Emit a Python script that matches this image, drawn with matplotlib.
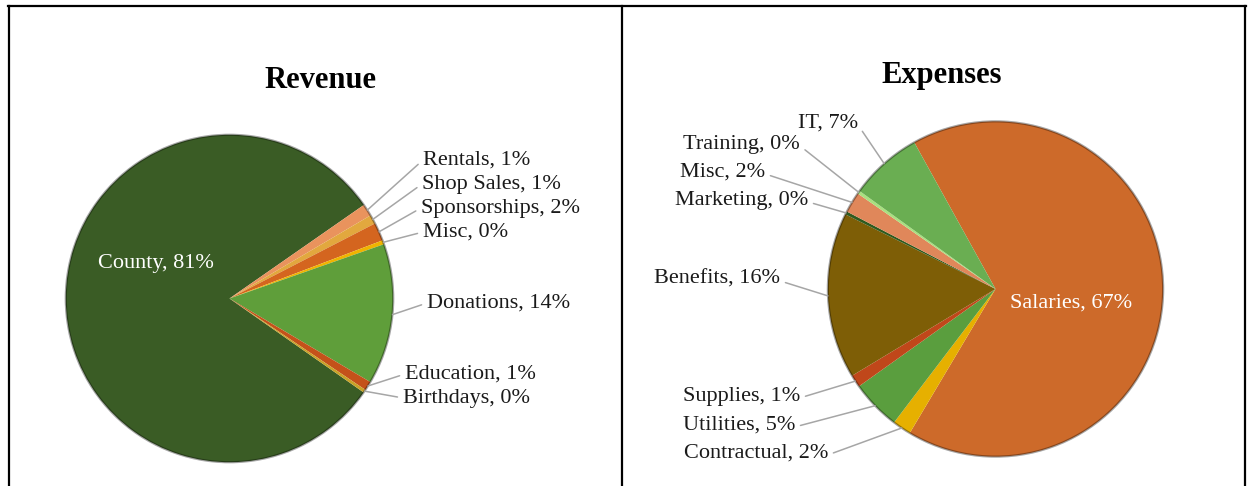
import numpy as np
import matplotlib
matplotlib.use("Agg")
import matplotlib.pyplot as plt
from matplotlib.lines import Line2D
from matplotlib.patches import Circle

plt.rcParams['font.family'] = ['Liberation Serif', 'DejaVu Serif']

W, H = 1250, 486
LINE_COLOR = "#a6a6a6"

# Revenue (clockwise order as drawn)
rev_labels = ["County", "Rentals", "Shop Sales", "Sponsorships", "Misc",
              "Donations", "Education", "Birthdays"]
rev_values = [80.6, 1.2, 0.9, 1.8, 0.4, 13.9, 0.9, 0.3]
rev_pcts = [81, 1, 1, 2, 0, 14, 1, 0]
rev_colors = ["#3a5c25", "#e9935d", "#e2a83e", "#d4651f", "#f0b400",
              "#5f9e3a", "#c4521a", "#c9a227"]

# Expenses
exp_labels = ["Salaries", "Contractual", "Utilities", "Supplies", "Benefits",
              "Marketing", "Misc", "Training", "IT"]
exp_values = [66.6, 1.8, 4.8, 1.2, 16.0, 0.3, 2.0, 0.3, 7.0]
exp_pcts = [67, 2, 5, 1, 16, 0, 2, 0, 7]
exp_colors = ["#cd6a2a", "#e6b000", "#5a9e3e", "#c0471a", "#7e5e06",
              "#2f5a1e", "#e0875a", "#a9e07f", "#6aae52"]

# label anchor positions in image pixels (x, y from top, ha); first one sits inside
rev_pos = [(98, 263, "left"), (423, 160, "left"), (422, 184, "left"),
           (421, 208, "left"), (423, 232, "left"), (427, 303, "left"),
           (405, 374, "left"), (403, 398, "left")]
exp_pos = [(1010, 303, "left"), (828, 453, "right"), (795, 425, "right"),
           (800, 396, "right"), (780, 279, "right"), (808, 200, "right"),
           (765, 172, "right"), (800, 144, "right"), (858, 123, "right")]


def draw_pie(fig, cx, cy, r, values, colors, labels, pcts, positions, start, inside):
    ax = fig.add_axes([(cx - r) / W, (H - cy - r) / H, 2 * r / W, 2 * r / H])
    wedges, _ = ax.pie(values, colors=colors, startangle=start, counterclock=False,
                       radius=1, wedgeprops=dict(linewidth=0))
    ax.set_xlim(-1.02, 1.02)
    ax.set_ylim(-1.02, 1.02)
    ax.set_aspect("auto")
    ax.add_patch(Circle((0, 0), 1, fill=False, edgecolor="#000000", alpha=0.35, lw=1.6))
    for i, (w, lab, p, pos) in enumerate(zip(wedges, labels, pcts, positions)):
        txt = f"{lab}, {p}%"
        px, py, ha = pos
        if i == inside:
            ax.annotate(txt, xy=(px, H - py), xycoords="figure pixels", ha=ha,
                        va="center", color="white", fontsize=16)
            continue
        mid = np.deg2rad((w.theta1 + w.theta2) / 2)
        rel = (0, 0.5) if ha == "left" else (1, 0.4)
        ax.annotate(txt, xy=(np.cos(mid), np.sin(mid)), xycoords="data",
                    xytext=(px, H - py), textcoords="figure pixels",
                    ha=ha, va="center", fontsize=16, color="#1a1a1a",
                    annotation_clip=False,
                    arrowprops=dict(arrowstyle="-", color=LINE_COLOR, lw=1.1,
                                    shrinkA=2, shrinkB=0, relpos=rel))
    return ax


fig = plt.figure(figsize=(W / 100, H / 100), dpi=100)
fig.patch.set_facecolor("white")

draw_pie(fig, 229.5, 298.5, 167, rev_values, rev_colors, rev_labels, rev_pcts,
         rev_pos, start=-35, inside=0)
draw_pie(fig, 995.5, 289, 171, exp_values, exp_colors, exp_labels, exp_pcts,
         exp_pos, start=119, inside=0)

fig.text(320 / W, 1 - 80 / H, "Revenue", ha="center", va="center",
         fontsize=22, fontweight="bold")
fig.text(942 / W, 1 - 75 / H, "Expenses", ha="center", va="center",
         fontsize=22, fontweight="bold")

# panel borders
for xs, ys in [([8, 1246], [6, 6]), ([9, 9], [6, 486]),
               ([622, 622], [6, 486]), ([1245, 1245], [6, 486])]:
    fig.add_artist(Line2D([x / W for x in xs], [1 - y / H for y in ys],
                          color="black", lw=1.6, transform=fig.transFigure))

fig.savefig("out.png", dpi=100, facecolor="white")
